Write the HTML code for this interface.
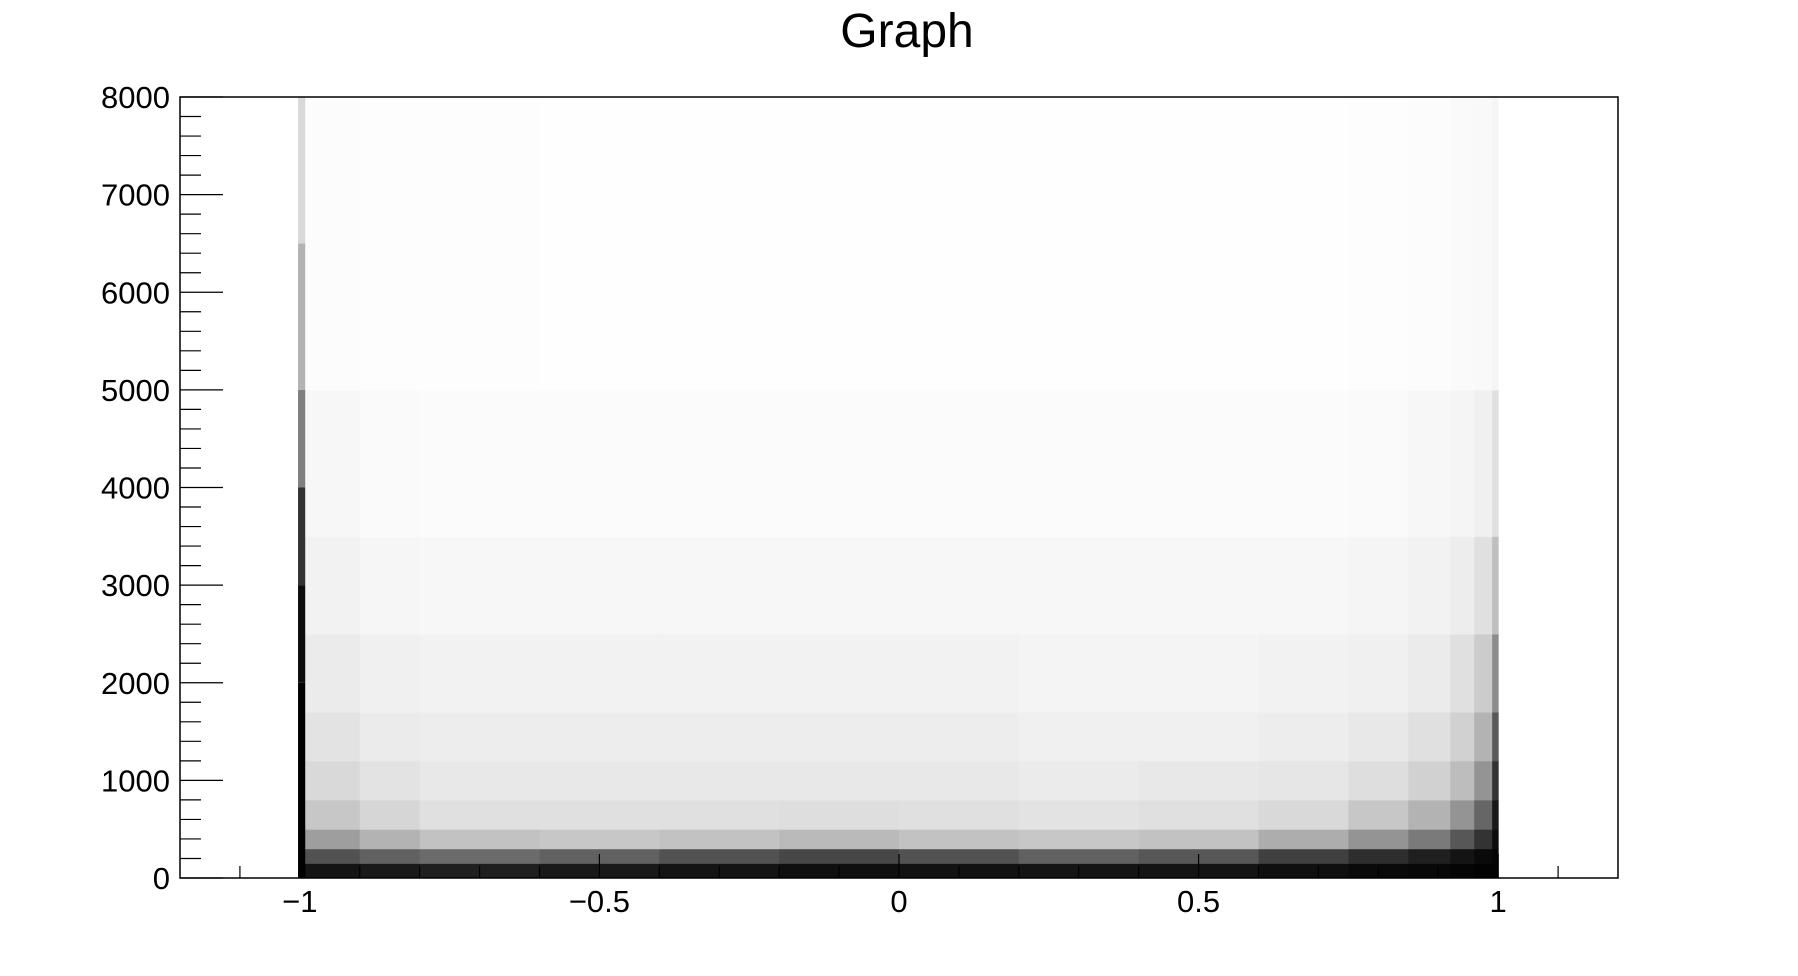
<!DOCTYPE html>
<html><head><meta charset="utf-8"><style>
html,body{margin:0;padding:0;background:#fff;}
svg{display:block;font-family:"Liberation Sans",Arial,sans-serif;}
</style></head><body>
<svg id="chart" width="1798" height="976" viewBox="0 0 1798 976" xmlns="http://www.w3.org/2000/svg">
<rect x="0" y="0" width="1798" height="976" fill="#fff"/>
<text x="907" y="47" font-size="48" text-anchor="middle">Graph</text>
<g id="marks"></g>
<g id="axes"></g>
</svg>
<script>
// data: density of scatter points per region (fraction of ink)
const xEdges = [-0.997,-0.9,-0.8,-0.6,-0.4,-0.2,0,0.2,0.4,0.6,0.75,0.85,0.92,0.96,0.99,1.0];
const yEdges = [0,150,300,500,800,1200,1700,2500,3500,5000,8000];
const densityRows = [
  [0.92,0.90,0.88,0.90,0.92,0.94,0.93,0.92,0.92,0.94,0.96,0.97,0.98,0.99,0.99],
  [0.68,0.62,0.58,0.62,0.68,0.72,0.68,0.62,0.66,0.75,0.82,0.88,0.92,0.96,0.98],
  [0.38,0.30,0.24,0.22,0.24,0.27,0.24,0.22,0.24,0.32,0.42,0.52,0.66,0.80,0.95],
  [0.22,0.16,0.12,0.12,0.12,0.13,0.12,0.11,0.12,0.15,0.22,0.30,0.42,0.60,0.90],
  [0.15,0.11,0.09,0.09,0.09,0.09,0.09,0.08,0.09,0.10,0.13,0.18,0.26,0.42,0.80],
  [0.11,0.08,0.07,0.07,0.07,0.07,0.07,0.06,0.06,0.07,0.09,0.12,0.18,0.30,0.65],
  [0.08,0.06,0.05,0.05,0.05,0.05,0.05,0.045,0.045,0.05,0.06,0.08,0.12,0.20,0.45],
  [0.05,0.035,0.03,0.03,0.03,0.03,0.03,0.03,0.03,0.03,0.04,0.05,0.07,0.12,0.25],
  [0.03,0.02,0.015,0.015,0.015,0.015,0.015,0.015,0.015,0.015,0.02,0.03,0.04,0.06,0.12],
  [0.012,0.008,0.006,0.005,0.005,0.005,0.005,0.005,0.005,0.005,0.008,0.012,0.018,0.025,0.04]
];
// spike at x = -1
const spikeYEdges = [0,2000,3000,4000,5000,6500,8000];
const spikeDensity = [1.0,0.95,0.8,0.5,0.3,0.15];
const xTicks = [-1,-0.5,0,0.5,1];
const xTickLabels = ["\u22121","\u22120.5","0","0.5","1"];
const yTicks = [0,1000,2000,3000,4000,5000,6000,7000,8000];
const yTickLabels = ["0","1000","2000","3000","4000","5000","6000","7000","8000"];

const L=180,R=1618,T=97,B=878;
const xMin=-1.2,xMax=1.2,yMin=0,yMax=8000;
const sx=v=>L+(v-xMin)/(xMax-xMin)*(R-L);
const sy=v=>B-(v-yMin)/(yMax-yMin)*(B-T);
const NS="http://www.w3.org/2000/svg";
const marks=document.getElementById('marks');
const axes=document.getElementById('axes');
function mk(tag,attrs,parent){const e=document.createElementNS(NS,tag);for(const k in attrs)e.setAttribute(k,attrs[k]);parent.appendChild(e);return e;}

for(let r=0;r<densityRows.length;r++){
  for(let c=0;c<xEdges.length-1;c++){
    const x0=sx(xEdges[c]),x1=sx(xEdges[c+1]),y0=sy(yEdges[r+1]),y1=sy(yEdges[r]);
    const g=Math.round(255*(1-densityRows[r][c]));
    const e=mk('rect',{x:x0,y:y0,width:x1-x0+0.5,height:y1-y0+0.5,fill:`rgb(${g},${g},${g})`},marks);
    
    
  }
}
for(let i=0;i<spikeDensity.length;i++){
  const g=Math.round(255*(1-spikeDensity[i]));
  const e=mk('rect',{x:sx(-1.003),y:sy(spikeYEdges[i+1]),width:sx(-0.991)-sx(-1.003),height:sy(spikeYEdges[i])-sy(spikeYEdges[i+1]),fill:`rgb(${g},${g},${g})`},marks);
  
  
}

const frame=mk('rect',{x:L,y:T,width:R-L,height:B-T,fill:'none',stroke:'#000','stroke-width':1.5},axes);



for(let v=-1.1;v<=1.11;v+=0.1){
  const vv=Math.round(v*10)/10;
  const major=Math.abs(vv*2-Math.round(vv*2))<1e-6;
  const t=mk('line',{x1:sx(vv),x2:sx(vv),y1:B,y2:B-(major?24:12),stroke:'#000','stroke-width':1.2},axes);
  
  
}
xTicks.forEach((v,i)=>{
  const t=mk('text',{x:sx(v),y:912,'font-size':31,'text-anchor':'middle'},axes);
  t.textContent=xTickLabels[i];
  
  
});
for(let v=0;v<=8000;v+=200){
  const major=v%1000===0;
  const t=mk('line',{x1:L,x2:L+(major?43:21),y1:sy(v),y2:sy(v),stroke:'#000','stroke-width':1.2},axes);
  
  
}
yTicks.forEach((v,i)=>{
  const t=mk('text',{x:170,y:sy(v)+11,'font-size':31,'text-anchor':'end'},axes);
  t.textContent=yTickLabels[i];
  
  
});
</script>
</body></html>
